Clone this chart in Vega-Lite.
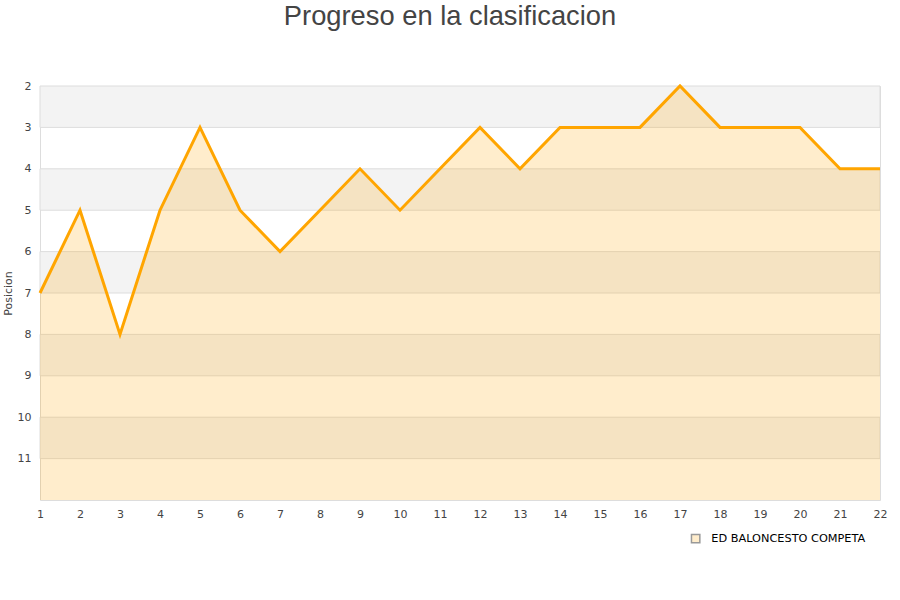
{
  "$schema": "https://vega.github.io/schema/vega-lite/v6.json",
  "autosize": {"type": "none"},
  "width": 840,
  "height": 414,
  "padding": {"left": 40, "top": 86, "right": 20, "bottom": 100},
  "background": "white",
  "config": {
    "view": {"stroke": "#dddddd", "strokeWidth": 1},
    "font": "DejaVu Sans",
    "axis": {"labelOverlap": false, "labelSeparation": -30}
  },
  "title": {
    "text": "Progreso en la clasificacion",
    "font": "Liberation Sans",
    "fontSize": 27.3,
    "fontWeight": "normal",
    "color": "#444444",
    "anchor": "middle",
    "offset": 50,
    "dx": -10
  },
  "datasets": {
    "puntos": [
      {"jornada": 1, "posicion": 7},
      {"jornada": 2, "posicion": 5},
      {"jornada": 3, "posicion": 8},
      {"jornada": 4, "posicion": 5},
      {"jornada": 5, "posicion": 3},
      {"jornada": 6, "posicion": 5},
      {"jornada": 7, "posicion": 6},
      {"jornada": 8, "posicion": 5},
      {"jornada": 9, "posicion": 4},
      {"jornada": 10, "posicion": 5},
      {"jornada": 11, "posicion": 4},
      {"jornada": 12, "posicion": 3},
      {"jornada": 13, "posicion": 4},
      {"jornada": 14, "posicion": 3},
      {"jornada": 15, "posicion": 3},
      {"jornada": 16, "posicion": 3},
      {"jornada": 17, "posicion": 2},
      {"jornada": 18, "posicion": 3},
      {"jornada": 19, "posicion": 3},
      {"jornada": 20, "posicion": 3},
      {"jornada": 21, "posicion": 4},
      {"jornada": 22, "posicion": 4}
    ],
    "bandas": [
      {"desde": 2, "hasta": 3},
      {"desde": 4, "hasta": 5},
      {"desde": 6, "hasta": 7},
      {"desde": 8, "hasta": 9},
      {"desde": 10, "hasta": 11}
    ]
  },
  "layer": [
    {
      "data": {"name": "bandas"},
      "mark": {"type": "rect", "fill": "#f3f3f3", "stroke": "#dddddd", "strokeWidth": 1},
      "encoding": {
        "x": {
          "datum": 1, "type": "quantitative",
          "scale": {"domain": [1, 22], "nice": false, "zero": false},
          "axis": {
            "title": null, "values": [1,2,3,4,5,6,7,8,9,10,11,12,13,14,15,16,17,18,19,20,21,22],
            "tickCount": 22,
            "grid": false, "ticks": false, "domain": false, "labelOverlap": false,
            "labelFontSize": 11, "labelColor": "#444444", "labelPadding": 8, "labelFlush": false
          }
        },
        "x2": {"datum": 22},
        "y": {
          "field": "desde", "type": "quantitative",
          "scale": {"domain": [2, 12], "reverse": true, "nice": false, "zero": false},
          "axis": {
            "title": "Posicion", "titleFontSize": 11, "titleFontWeight": "normal", "titleColor": "#444444",
            "titlePadding": 4, "labelOverlap": false,
            "values": [2,3,4,5,6,7,8,9,10,11],
            "grid": false, "ticks": false, "domain": false,
            "labelFontSize": 11, "labelColor": "#444444", "labelPadding": 9
          }
        },
        "y2": {"field": "hasta"}
      }
    },
    {
      "data": {"name": "puntos"},
      "mark": {"type": "area", "color": "#ffa500", "fillOpacity": 0.2, "interpolate": "linear"},
      "encoding": {
        "x": {"field": "jornada", "type": "quantitative"},
        "y": {"field": "posicion", "type": "quantitative"},
        "y2": {"datum": 12}
      }
    },
    {
      "data": {"name": "puntos"},
      "mark": {"type": "line", "color": "#ffa500", "strokeWidth": 3, "interpolate": "linear"},
      "encoding": {
        "x": {"field": "jornada", "type": "quantitative"},
        "y": {"field": "posicion", "type": "quantitative"}
      }
    },
    {
      "data": {"values": []},
      "mark": {"type": "point", "filled": true, "fill": "#ffedcc", "stroke": "#999999", "strokeWidth": 1, "opacity": 1},
      "encoding": {
        "shape": {
          "datum": "ED BALONCESTO COMPETA",
          "type": "nominal",
          "scale": {"range": ["square"]},
          "legend": {
            "title": null,
            "orient": "none",
            "legendX": 650,
            "legendY": 447,
            "symbolSize": 70,
            "labelOffset": 10,
            "labelFontSize": 11.3,
            "labelColor": "#000000",
            "labelFont": "DejaVu Sans"
          }
        }
      }
    }
  ]
}
